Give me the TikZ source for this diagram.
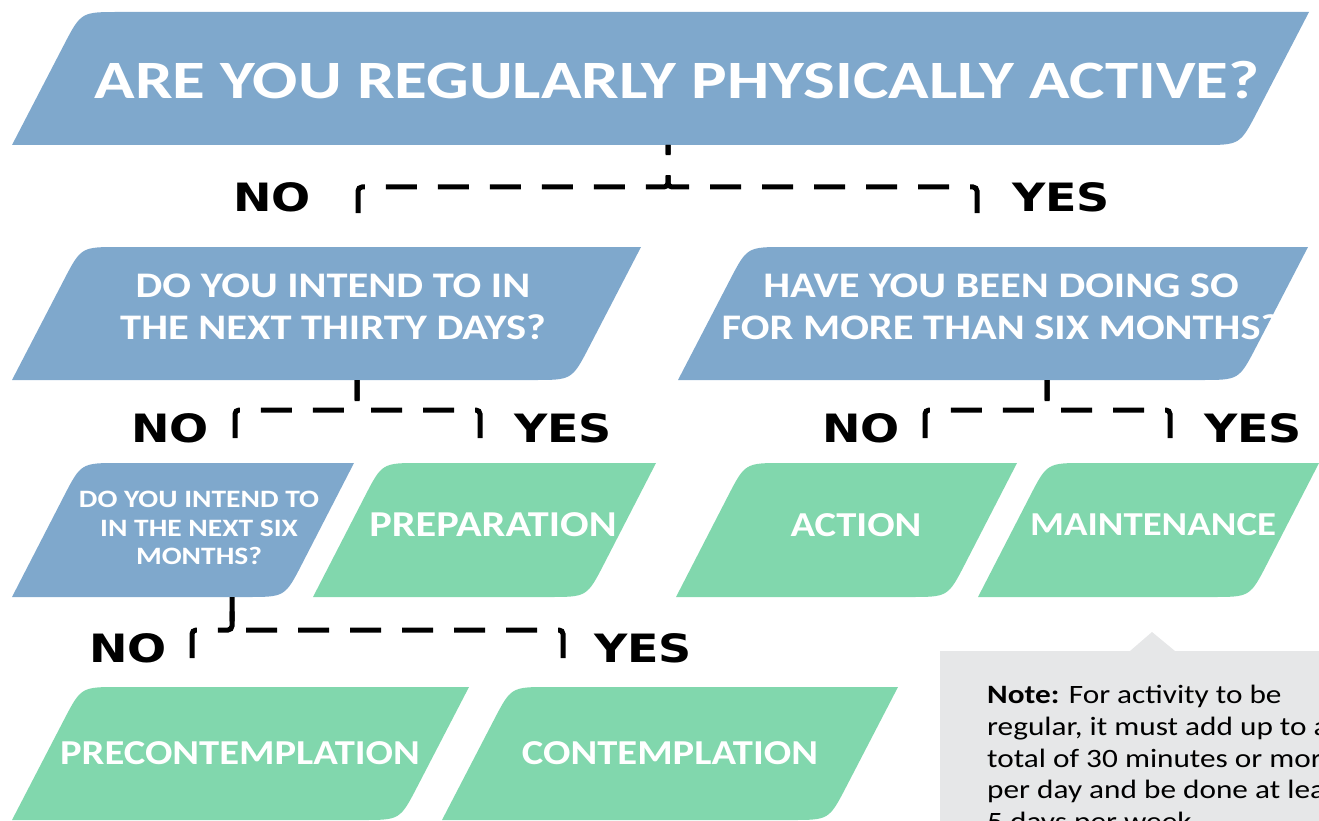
\documentclass[tikz,border=0pt]{standalone}
\usepackage{fontspec}
\setmainfont{Carlito}
\newfontfamily\tfont[FakeStretch=1.24]{Carlito}
\newfontfamily\qfont[FakeStretch=1.18]{Carlito}
\newfontfamily\gfont[FakeStretch=1.16]{Carlito}
\newfontfamily\notefont[FakeStretch=1.18]{Carlito}
\newfontfamily\ynfont[FakeStretch=1.18]{DejaVu Sans}
\usetikzlibrary{calc}
\definecolor{qblue}{RGB}{127,168,204}
\definecolor{sgreen}{RGB}{129,215,173}
\definecolor{notegray}{RGB}{230,231,232}
% #1 colour, #2 x left-bottom, #3 y top, #4 x right-top, #5 y bottom
\newcommand\pgram[5]{%
  \fill[#1] (#2,#5) -- ($(#2+69,#3)!38pt!(#2,#5)$) .. controls (#2+69,#3) .. ($(#2+69,#3)!38pt!(#4,#3)$)
    -- (#4,#3) -- ($(#4-69,#5)!38pt!(#4,#3)$) .. controls (#4-69,#5) .. ($(#4-69,#5)!38pt!(#2,#5)$) -- cycle;}
\begin{document}
\begin{tikzpicture}[x=1pt,y=-1pt,
  ttext/.style={text=white,font=\tfont\bfseries\fontsize{54}{60}\selectfont,inner sep=0pt},
  qtext/.style={text=white,font=\qfont\bfseries\fontsize{36}{42}\selectfont,align=center,inner sep=0pt},
  stext/.style={text=white,font=\qfont\bfseries\fontsize{25}{28.5}\selectfont,align=center,inner sep=0pt},
  gtext/.style={text=white,font=\gfont\bfseries\fontsize{35}{40}\selectfont,inner sep=0pt},
  yn/.style={font=\ynfont\bfseries\fontsize{39}{42}\selectfont,inner sep=0pt},
  conn/.style={line width=5pt,dash pattern=on 31pt off 21pt,rounded corners=4pt}]
\useasboundingbox (0,0) rectangle (1319,821);
\clip (0,0) rectangle (1319,821);
% shapes
\pgram{qblue}{12}{12}{1309}{145}
\pgram{qblue}{12}{247}{641}{380}
\pgram{qblue}{678}{247}{1308}{380}
\pgram{qblue}{12}{463}{354}{597}
\pgram{sgreen}{313}{463}{656}{597}
\pgram{sgreen}{676}{463}{1017}{597}
\pgram{sgreen}{978}{463}{1319}{597}
\pgram{sgreen}{12}{687}{469}{820}
\pgram{sgreen}{442}{687}{898}{820}
% texts
\node[ttext] (q1) at (677,80) {ARE YOU REGULARLY PHYSICALLY ACTIVE?};
\node[qtext] (q2) at (333,307) {DO YOU INTEND TO IN\\THE NEXT THIRTY DAYS?};
\node[qtext] (q4) at (1001,307) {HAVE YOU BEEN DOING SO\\FOR MORE THAN SIX MONTHS?};
\node[stext] (q3) at (199,528) {DO YOU INTEND TO\\IN THE NEXT SIX\\MONTHS?};
\node[gtext,font=\gfont\bfseries\fontsize{36.5}{40}\selectfont] (prep) at (493,525) {PREPARATION};
\node[gtext] (action) at (856,525) {ACTION};
\node[gtext,font=\gfont\bfseries\fontsize{33.5}{40}\selectfont] (maint) at (1153,525) {MAINTENANCE};
\node[gtext] (precon) at (240,753) {PRECONTEMPLATION};
\node[gtext] (contemp) at (670,753) {CONTEMPLATION};
% yes/no labels
\node[yn] (n1) at (272,197) {NO};
\node[yn] (y1) at (1061,197) {YES};
\node[yn] (n2) at (170,428) {NO};
\node[yn] (y2) at (563,428) {YES};
\node[yn] (n3) at (861,428) {NO};
\node[yn] (y3) at (1253,428) {YES};
\node[yn] (n4) at (128,648) {NO};
\node[yn] (y4) at (643,648) {YES};
% connectors
\coordinate (s1) at (668,145);
\coordinate (l1) at (358,213); \coordinate (r1) at (977,213);
\coordinate (s2) at (357,380);
\coordinate (l2) at (235,438); \coordinate (r2) at (480,438);
\coordinate (s3) at (1047,380);
\coordinate (l3) at (925,438); \coordinate (r3) at (1170,438);
\coordinate (s4) at (232,597);
\coordinate (l4) at (192,658); \coordinate (r4) at (563,658);
\draw[conn] (l1) -- (358,187) -| (s1);
\draw[conn] (r1) -- (977,187) -| (s1);
\draw[conn] (l2) -- (235,410) -| (s2);
\draw[conn] (r2) -- (480,410) -| (s2);
\draw[conn] (l3) -- (925,410) -| (s3);
\draw[conn] (r3) -- (1170,410) -| (s3);
\draw[conn] (l4) -- (192,630) -| (s4);
\draw[conn] (r4) -- (563,630) -| (s4);
% note
\fill[notegray] (940,651) -- (1130,651) -- (1152,632) -- (1175,651) -- (1330,651) -- (1330,830) -- (940,830) -- cycle;
\node[anchor=north west,inner sep=0pt,align=left,font=\notefont\fontsize{26.5}{31.7}\selectfont] (note) at (987,685)
  {\textbf{Note:} For activity to be\\regular, it must add up to a\\total of 30 minutes or more\\per day and be done at least\\5 days per week.};
\end{tikzpicture}
\end{document}
